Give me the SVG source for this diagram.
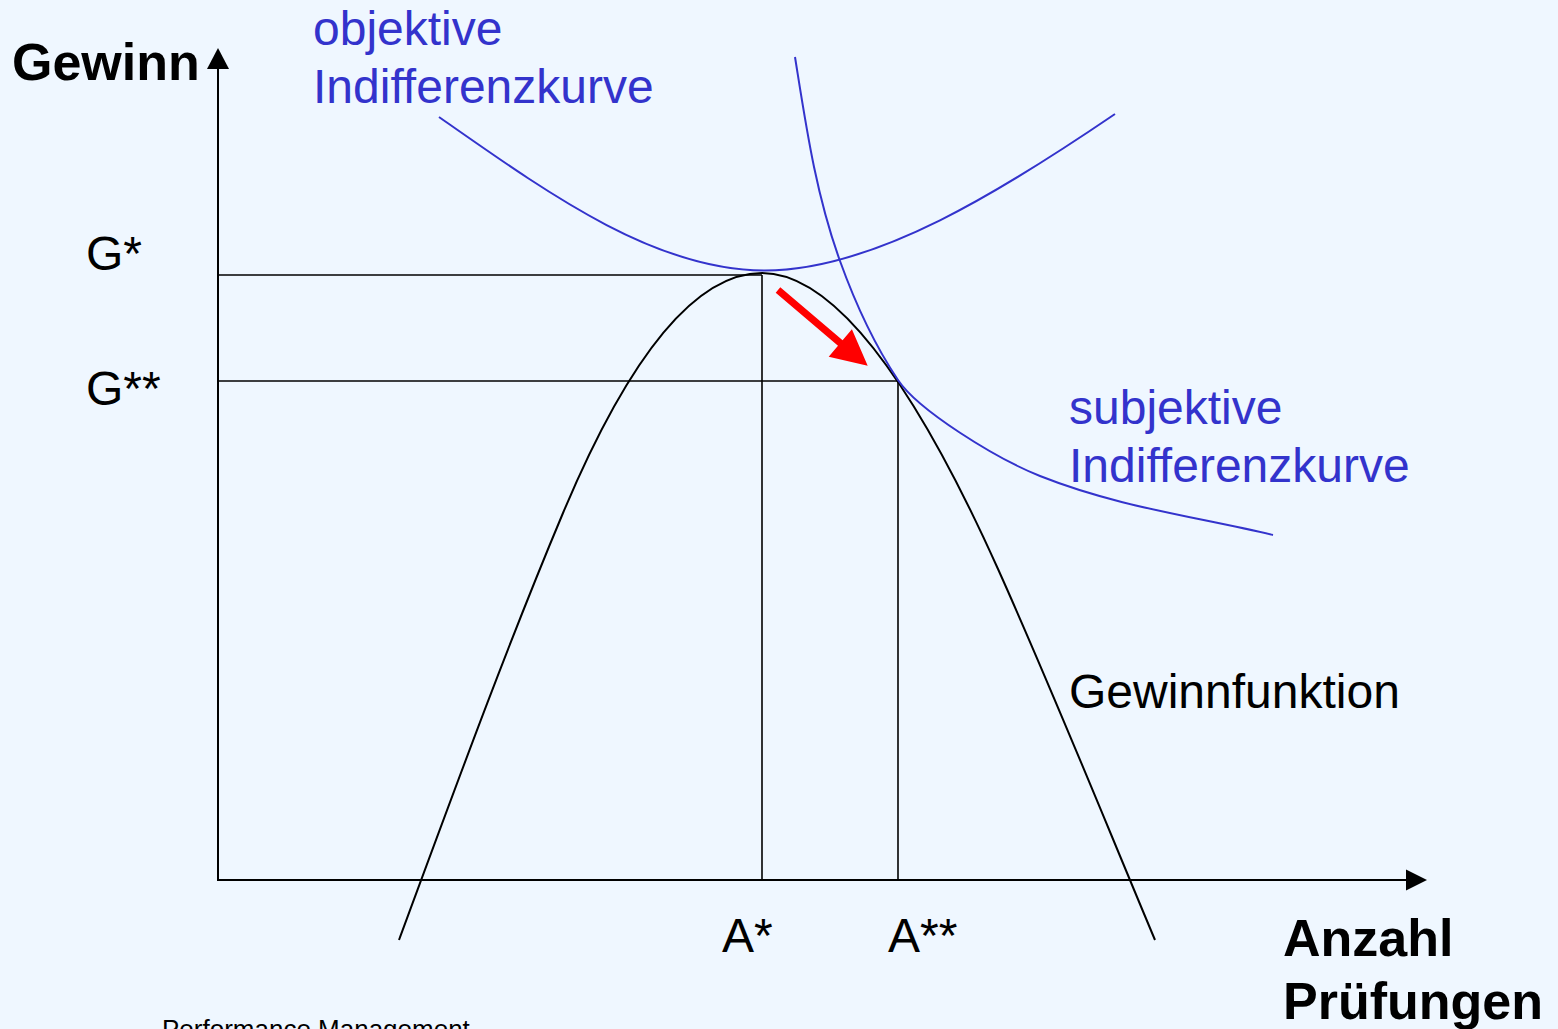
<svg xmlns="http://www.w3.org/2000/svg" width="1558" height="1029" viewBox="0 0 1558 1029">
<style>
.ax{stroke:#000;stroke-width:2;fill:none}
.thin{stroke:#000;stroke-width:1.6;fill:none}
.blk{stroke:#000;stroke-width:2;fill:none}
.blu{stroke:#3333CC;stroke-width:2;fill:none}
.t{font-family:"Liberation Sans",Arial,sans-serif;font-size:48px;fill:#000}
.tb{font-family:"Liberation Sans",Arial,sans-serif;font-size:52px;font-weight:bold;fill:#000}
.tblue{font-family:"Liberation Sans",Arial,sans-serif;font-size:48px;fill:#3333CC}
</style>
<rect x="0" y="0" width="1558" height="1029" fill="#EFF7FF"/>
<g id="axes">
<line class="ax" x1="218" y1="880" x2="218" y2="66"/>
<polygon points="218,48 207,69 229,69" fill="#000"/>
<line class="ax" x1="217" y1="880" x2="1410" y2="880"/>
<polygon points="1427,880 1406,869.5 1406,890.5" fill="#000"/>
</g>
<g id="connectors">
<line class="thin" x1="218" y1="275" x2="762" y2="275"/>
<line class="thin" x1="762" y1="275" x2="762" y2="880"/>
<line class="thin" x1="218" y1="381" x2="898" y2="381"/>
<line class="thin" x1="898" y1="381" x2="898" y2="880"/>
</g>
<g id="gewinnfunktion">
<path class="blk" d="M399,940 C450.8,800 504.2,653 563,513 C630.2,353 696.5,273 762,273 C830.7,273 909.3,371.7 998,569 C1052,689 1104.6,820 1155,940"/>
</g>
<g id="objektive-kurve">
<path class="blu" d="M439,117 C549,194 655,270.5 765,270.5 C875,270.5 1005,188.8 1115,114"/>
</g>
<g id="subjektive-kurve">
<path class="blu" d="M795,57 C805.9,125 815.5,193 840,261 C854.4,301 871.3,340 898,380 C918,410 995,458 1040,476 C1118,507 1195,516.5 1273,535"/>
</g>
<g id="red-arrow">
<polygon points="780.3,287.3 842.6,340.3 851.9,329.2 867.7,365.7 828.7,356.8 838,345.7 775.7,292.7" fill="#FF0000"/>
</g>
<g id="labels">
<text class="tb" x="12" y="80">Gewinn</text>
<text class="tblue" x="313" y="45">objektive</text>
<text class="tblue" x="313" y="103">Indifferenzkurve</text>
<text class="t" x="86" y="270">G*</text>
<text class="t" x="86" y="405">G**</text>
<text class="tblue" x="1069" y="424">subjektive</text>
<text class="tblue" x="1069" y="482">Indifferenzkurve</text>
<text class="t" x="1069" y="708">Gewinnfunktion</text>
<text class="t" x="722" y="952">A*</text>
<text class="t" x="888" y="952">A**</text>
<text class="tb" x="1283" y="956">Anzahl</text>
<text class="tb" x="1283" y="1019">Prüfungen</text>
<text font-family="Liberation Sans, Arial, sans-serif" font-size="26" x="162" y="1038" fill="#000">Performance Management</text>
</g>
</svg>
